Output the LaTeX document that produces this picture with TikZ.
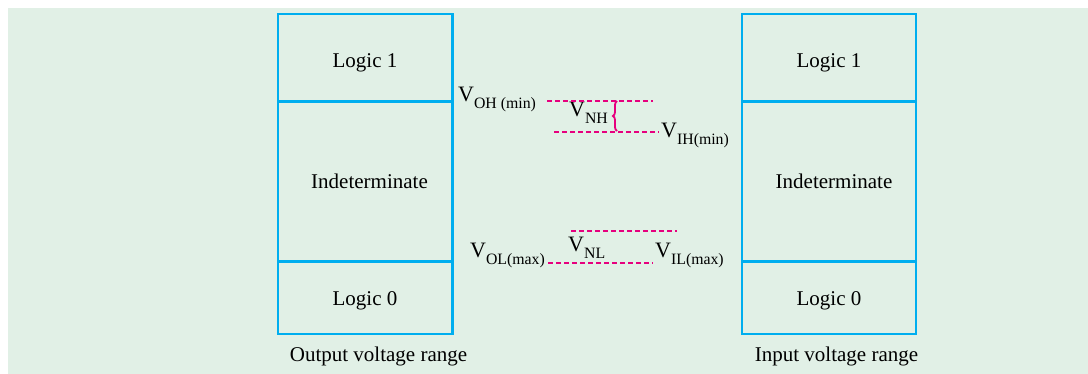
\documentclass[tikz,border=0pt]{standalone}
\usepackage{fontspec}
\setmainfont{Liberation Serif}
\usetikzlibrary{decorations.pathreplacing}
\definecolor{bgc}{HTML}{E1F0E6}
\definecolor{boxc}{HTML}{00AEEF}
\definecolor{magc}{HTML}{E6007E}
\newcommand\Vsub[1]{{\fontsize{22}{24}\selectfont V}\raisebox{-7pt}{\fontsize{15.8}{17}\selectfont #1}}
\begin{document}
\begin{tikzpicture}[x=1pt,y=-1pt,
  every node/.style={font=\fontsize{21}{24}\selectfont},
  lbl/.style={anchor=base,inner sep=0pt},
  vlbl/.style={anchor=base west,inner sep=0pt},
  dline/.style={magc,line width=2pt,dash pattern=on 5pt off 3pt}]
\useasboundingbox (0,0) rectangle (1088,374);
\fill[bgc] (8,8) rectangle (1088,374);
% left box
\draw[boxc,line width=2.5pt] (278,14) rectangle (452.5,334);
\draw[boxc,line width=2.5pt] (278,101.5) -- (452.5,101.5);
\draw[boxc,line width=2.5pt] (278,261.5) -- (452.5,261.5);
% right box
\draw[boxc,line width=2.5pt] (742,14) rectangle (916,334);
\draw[boxc,line width=2.5pt] (742,101.5) -- (916,101.5);
\draw[boxc,line width=2.5pt] (742,261.5) -- (916,261.5);
% texts
\node[lbl] (l1) at (365,67.5) {Logic 1};
\node[lbl] (li) at (369.5,188.5) {Indeterminate};
\node[lbl] (l0) at (365,305.5) {Logic 0};
\node[lbl] (r1) at (829,67.5) {Logic 1};
\node[lbl] (ri) at (834,188.5) {Indeterminate};
\node[lbl] (r0) at (829,305.5) {Logic 0};
\node[lbl] (cout) at (378.5,362) {Output voltage range};
\node[lbl] (cin) at (836.5,362) {Input voltage range};
% voltage labels
\node[vlbl] (voh) at (458,102) {\Vsub{OH (min)}};
\node[vlbl] (vnh) at (569,117) {\Vsub{NH}};
\node[vlbl] (vih) at (661,138) {\Vsub{IH(min)}};
\node[vlbl] (vol) at (470,258) {\Vsub{OL(max)}};
\node[vlbl] (vnl) at (568,252) {\Vsub{NL}};
\node[vlbl] (vil) at (655,258) {\Vsub{IL(max)}};
% dashed levels
\coordinate (a1) at (547,101);   \coordinate (a2) at (653,101);
\coordinate (b1) at (554,132);   \coordinate (b2) at (659,132);
\coordinate (c1) at (571,231);   \coordinate (c2) at (677,231);
\coordinate (d1) at (548,263);   \coordinate (d2) at (653,263);
\draw[dline] (a1) -- (a2);
\draw[dline] (b1) -- (b2);
\draw[dline] (c1) -- (c2);
\draw[dline] (d1) -- (d2);
% brace
\coordinate (br1) at (617,101);
\coordinate (br2) at (617,131);
\draw[magc,line width=1.8pt,decorate,decoration={brace,amplitude=4pt}] (br2) -- (br1);
\end{tikzpicture}
\end{document}
